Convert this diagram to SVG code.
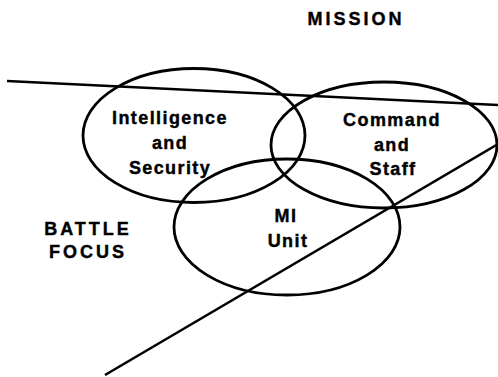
<svg xmlns="http://www.w3.org/2000/svg" width="498" height="377" viewBox="0 0 498 377">
<style>
.e{fill:none;stroke:#000;stroke-width:2.8}
.l{fill:none;stroke:#000;stroke-width:2.6}
text{font-family:"Liberation Sans",Arial,sans-serif;font-weight:bold;font-size:18px;fill:#000;stroke:#000;stroke-width:0.4;text-anchor:middle;letter-spacing:1.4px}
.cap{font-size:18px;letter-spacing:3px}
</style>
<rect width="498" height="377" fill="#fff"/>
<g id="intelligence-security">
<ellipse class="e" cx="194" cy="135.5" rx="111" ry="67"/>
<text x="170" y="124">Intelligence</text>
<text x="170" y="149">and</text>
<text x="170" y="174">Security</text>
</g>
<g id="command-staff">
<ellipse class="e" cx="384" cy="145" rx="113" ry="63"/>
<text x="392" y="126">Command</text>
<text x="392" y="151">and</text>
<text x="393" y="175">Staff</text>
</g>
<g id="mi-unit">
<ellipse class="e" cx="287" cy="227" rx="113" ry="68"/>
<text x="286" y="222">MI</text>
<text x="288" y="247">Unit</text>
</g>
<g id="connectors">
<line class="l" x1="7" y1="81" x2="498" y2="105"/>
<line class="l" x1="105" y1="375" x2="498" y2="144"/>
</g>
<g id="mission">
<text class="cap" x="356" y="25">MISSION</text>
</g>
<g id="battle-focus">
<text class="cap" x="88" y="235">BATTLE</text>
<text class="cap" x="88" y="258">FOCUS</text>
</g>
</svg>
